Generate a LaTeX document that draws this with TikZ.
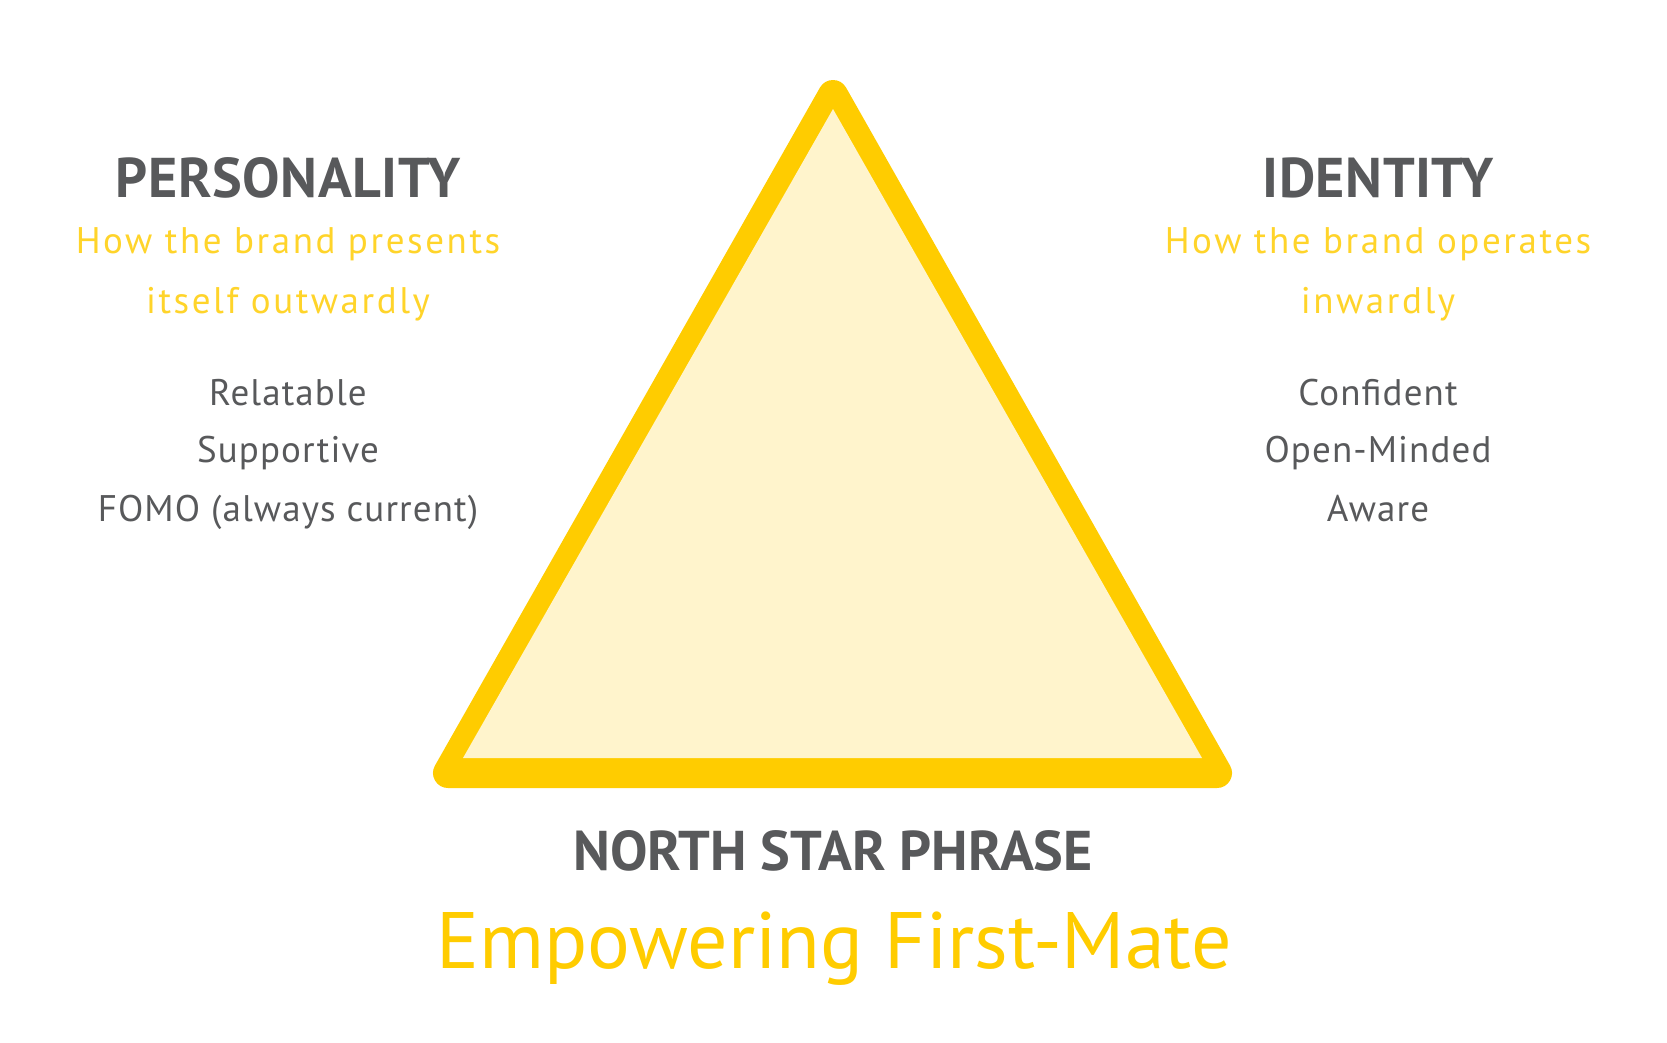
\documentclass[tikz,border=0pt]{standalone}
\usepackage{fontspec}
\setmainfont{PT Sans}
\newfontfamily\subfont[LetterSpace=7]{PT Sans}
\newfontfamily\itemfont[LetterSpace=3]{PT Sans}
\newfontfamily\headfont[LetterSpace=1]{PT Sans}
\definecolor{dgray}{HTML}{58595B}
\definecolor{ystroke}{HTML}{FFCC00}
\definecolor{ysub}{HTML}{FFD42A}
\definecolor{yfill}{HTML}{FFF4CC}
\begin{document}
\begin{tikzpicture}[x=1pt,y=-1pt,
  head/.style={anchor=base,inner sep=0pt,text=dgray,font=\headfont\fontsize{56}{60}\selectfont\bfseries},
  sub/.style={anchor=base,inner sep=0pt,text=ysub,font=\subfont\fontsize{37}{40}\selectfont},
  item/.style={anchor=base,inner sep=0pt,text=dgray,font=\itemfont\fontsize{37}{40}\selectfont},
  phrase/.style={anchor=base,inner sep=0pt,text=ystroke,font=\fontsize{80}{84}\selectfont}]
\fill[white] (0,0) rectangle (1667,1042);
\useasboundingbox (0,0) rectangle (1667,1042);
% triangle
\coordinate (A) at (833,95);
\coordinate (B) at (448,773);
\coordinate (C) at (1217,773);
\filldraw[ystroke,line width=30pt,line join=round] (A) -- (B) -- (C) -- cycle;
\coordinate (iA) at (833,109);
\coordinate (iB) at (463,758);
\coordinate (iC) at (1202,758);
\fill[yfill] (iA) -- (iB) -- (iC) -- cycle;
% left
\node[head] (ph) at (288,197) {PERSONALITY};
\node[sub] (ps1) at (288,253) {How the brand presents};
\node[sub] (ps2) at (288,313) {itself outwardly};
\node[item] (p1) at (288,405) {Relatable};
\node[item] (p2) at (288,462) {Supportive};
\node[item] (p3) at (288,521) {FOMO (always current)};
% right
\node[head] (ih) at (1378,197) {IDENTITY};
\node[sub] (is1) at (1378,253) {How the brand operates};
\node[sub] (is2) at (1378,313) {inwardly};
\node[item] (i1) at (1378,405) {Confident};
\node[item] (i2) at (1378,462) {Open-Minded};
\node[item] (i3) at (1378,521) {Aware};
% bottom
\node[head,font=\fontsize{56}{60}\selectfont\bfseries] (nh) at (833,870) {NORTH STAR PHRASE};
\node[phrase] (np) at (834,968) {Empowering First-Mate};
\end{tikzpicture}
\end{document}
